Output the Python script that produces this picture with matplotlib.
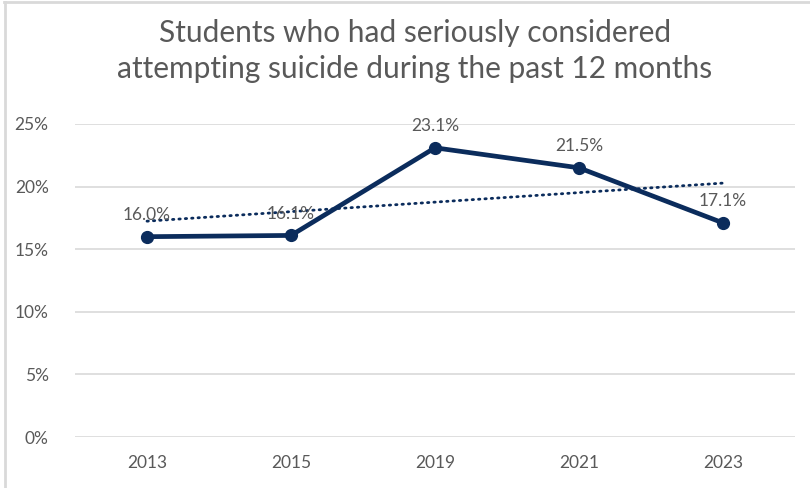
import numpy as np
import matplotlib.pyplot as plt
from matplotlib.lines import Line2D

years = ["2013", "2015", "2019", "2021", "2023"]
pct = [16.0, 16.1, 23.1, 21.5, 17.1]
yticks = [0, 5, 10, 15, 20, 25]
title = "Students who had seriously considered\nattempting suicide during the past 12 months"

navy = "#0b2c5c"
gray_txt = "#595959"
grid_c = "#d9d9d9"

plt.rcParams['font.family'] = ['Lato', 'DejaVu Sans']

fig = plt.figure(figsize=(8.1, 4.88), dpi=100)
ax = fig.add_axes([75 / 810, 1 - 437 / 488, (795 - 75) / 810, (437 - 124) / 488])

x = np.arange(len(years))
ax.plot(x, pct, color=navy, lw=3.4, marker="o", ms=8.5, solid_joinstyle="round", zorder=3)

# linear trendline
k, b = np.polyfit(x, pct, 1)
ax.plot(x, k * x + b, color=navy, lw=2.0, ls=(0, (0.5, 1.8)), dash_capstyle="round", zorder=2)

for xi, v in zip(x, pct):
    ax.annotate(f"{v:.1f}%", (xi, v), xytext=(0, 10), textcoords="offset points",
                ha="center", va="bottom", fontsize=12.5, color=gray_txt, zorder=4)

ax.set_xlim(-0.5, len(years) - 0.5)
ax.set_ylim(0, 25)
ax.set_xticks(x)
ax.set_xticklabels(years)
ax.set_yticks(yticks)
ax.set_yticklabels([f"{t}%" for t in yticks])
ax.tick_params(length=0, labelsize=12.5, colors=gray_txt)
ax.tick_params(axis="x", pad=13)
ax.tick_params(axis="y", pad=19)
ax.grid(axis="y", color=grid_c, lw=1.2)
ax.set_axisbelow(True)
for s in ax.spines.values():
    s.set_visible(False)

fig.text(415 / 810, 1 - 51 / 488, title, ha="center", va="center", fontsize=21.5,
         color=gray_txt, linespacing=1.32)

# chart border (top and left visible in the crop)
fig.add_artist(Line2D([4 / 810, 1], [1 - 2 / 488, 1 - 2 / 488], color=grid_c, lw=2))
fig.add_artist(Line2D([5 / 810, 5 / 810], [0, 1 - 2 / 488], color=grid_c, lw=2))

fig.savefig("out.png", dpi=100)
